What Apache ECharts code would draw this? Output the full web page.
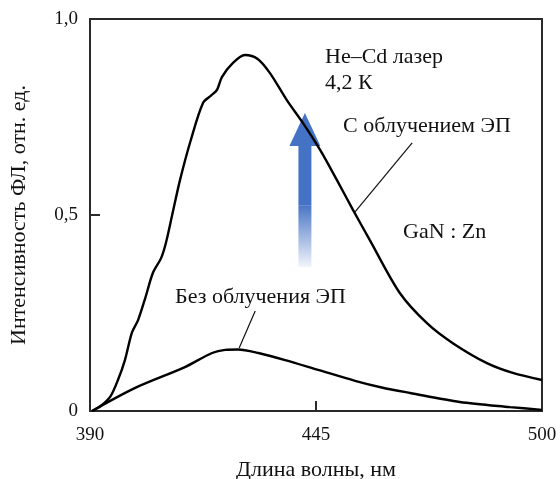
<!DOCTYPE html>
<html>
<head>
<meta charset="utf-8">
<script src="https://cdn.jsdelivr.net/npm/echarts@6/dist/echarts.min.js"></script>
<style>
html,body{margin:0;padding:0;background:#fff;}
#c{width:560px;height:479px;}
</style>
</head>
<body>
<div id="c"></div>
<script>
// Data (wavelength nm, relative intensity)
var withIrrX = [390.5, 392.5, 394.9, 396.8, 398.5, 400.2, 401.7, 403.5, 405.3, 407.3, 408.5, 410.0, 411.9, 414.5, 417.5, 419.5, 420.9, 422.1, 424.8, 427.7, 430.8, 433.8, 437.9, 441.8, 446.0, 450.1, 454.0, 458.1, 465.4, 472.0, 478.3, 486.6, 492.9, 500];
var withIrrY = [0.0, 0.012, 0.036, 0.079, 0.13, 0.2, 0.232, 0.29, 0.352, 0.39, 0.43, 0.50, 0.589, 0.69, 0.786, 0.805, 0.819, 0.852, 0.888, 0.908, 0.898, 0.862, 0.793, 0.735, 0.666, 0.589, 0.513, 0.436, 0.301, 0.224, 0.173, 0.122, 0.097, 0.079];
var noIrrX = [390.5, 401.0, 413.1, 419.7, 422.9, 426.0, 431.0, 437.5, 445.5, 454.5, 461.0, 467.9, 480.0, 492.2, 500];
var noIrrY = [0.0, 0.059, 0.112, 0.148, 0.156, 0.157, 0.148, 0.13, 0.105, 0.077, 0.06, 0.046, 0.023, 0.01, 0.003];
var xTickLabels = [390, 445, 500];
var yTickLabels = [0, 0.5, 1.0];
var seriesNames = ['С облучением ЭП', 'Без облучения ЭП'];

function pairs(xs, ys){ return xs.map(function(x,i){ return [x, ys[i]]; }); }

var FONT = "'Liberation Serif', 'Times New Roman', serif";
var chart = echarts.init(document.getElementById('c'), null, {renderer:'canvas'});

var option = {
  animation: false,
  backgroundColor: '#fff',
  grid: {left: 90, right: 18, top: 19, bottom: 68, containLabel: false, outerBoundsMode: 'none',
    show: true, borderColor: '#2a2a2a', borderWidth: 2, backgroundColor: 'transparent'},
  xAxis: {
    type: 'value', min: 390, max: 500,
    name: 'Длина волны, нм', nameLocation: 'middle', nameGap: 48,
    nameTextStyle: {fontFamily: FONT, fontSize: 22, color: '#111'},
    axisLine: {show: true, lineStyle: {color: '#2a2a2a', width: 2}},
    axisTick: {show: true, inside: true, length: 10, customValues: [445], lineStyle: {color: '#2a2a2a', width: 2}},
    axisLabel: {customValues: xTickLabels, margin: 15, fontFamily: FONT, fontSize: 19, color: '#111'},
    splitLine: {show: false}
  },
  yAxis: {
    type: 'value', min: 0, max: 1, interval: 0.5,
    name: 'Интенсивность ФЛ, отн. ед.', nameLocation: 'middle', nameGap: 60, nameRotate: 90,
    nameTextStyle: {fontFamily: FONT, fontSize: 22, color: '#111'},
    axisLine: {show: true, lineStyle: {color: '#2a2a2a', width: 2}},
    axisTick: {show: true, inside: true, length: 10, customValues: [0.5], lineStyle: {color: '#2a2a2a', width: 2}},
    axisLabel: {customValues: yTickLabels, margin: 12, fontFamily: FONT, fontSize: 19, color: '#111',
      formatter: function(v){ return v === 0 ? '0' : v.toFixed(1).replace('.', ','); }},
    splitLine: {show: false}
  },
  series: [
    {name: seriesNames[0], type: 'line', data: pairs(withIrrX, withIrrY), smooth: 0.3, showSymbol: false,
     lineStyle: {color: '#000', width: 2.4}, z: 5},
    {name: seriesNames[1], type: 'line', data: pairs(noIrrX, noIrrY), smooth: 0.3, showSymbol: false,
     lineStyle: {color: '#000', width: 2.4}, z: 5}
  ]
};
chart.setOption(option);

// Annotations placed in data coordinates
function P(x, y){ return chart.convertToPixel({gridIndex: 0}, [x, y]); }
var tip = P(442.3, 0.76), headBase = P(442.3, 0.676), solidEnd = P(442.3, 0.525), shaftEnd = P(442.3, 0.367);
var headHalf = 15.5, shaftHalf = 6.5;
var texts = [
  {t: 'He–Cd лазер', x: 447.2, y: 0.903},
  {t: '4,2 К', x: 447.2, y: 0.837},
  {t: 'С облучением ЭП', x: 451.6, y: 0.727},
  {t: 'GaN : Zn', x: 466.2, y: 0.457},
  {t: 'Без облучения ЭП', x: 410.7, y: 0.291}
];
var leaders = [
  [[468.4, 0.684], [454.5, 0.508]],
  [[430.2, 0.255], [426.3, 0.161]]
];
var g = [];
texts.forEach(function(o){
  var p = P(o.x, o.y);
  g.push({type: 'text', x: p[0], y: p[1], z: 10, style: {text: o.t, fontFamily: FONT, fontSize: 22, fill: '#111', textAlign: 'left', textVerticalAlign: 'middle'}});
});
leaders.forEach(function(l){
  var a = P(l[0][0], l[0][1]), b = P(l[1][0], l[1][1]);
  g.push({type: 'line', z: 10, shape: {x1: a[0], y1: a[1], x2: b[0], y2: b[1]}, style: {stroke: '#111', lineWidth: 1.2}});
});
// arrow shaft (solid part + gradient part)
g.push({type: 'rect', z: 3, shape: {x: tip[0] - shaftHalf, y: headBase[1] - 1, width: shaftHalf * 2, height: solidEnd[1] - headBase[1] + 1}, style: {fill: '#4472C4'}});
g.push({type: 'rect', z: 3, shape: {x: tip[0] - shaftHalf, y: solidEnd[1], width: shaftHalf * 2, height: shaftEnd[1] - solidEnd[1]},
  style: {fill: new echarts.graphic.LinearGradient(0, 0, 0, 1, [{offset: 0, color: '#4a76c6'}, {offset: 1, color: '#f2f5fb'}])}});
g.push({type: 'polygon', z: 3, shape: {points: [[tip[0], tip[1]], [tip[0] - headHalf, headBase[1]], [tip[0] + headHalf, headBase[1]]]}, style: {fill: '#4472C4'}});
chart.setOption({graphic: g});
</script>
</body>
</html>
